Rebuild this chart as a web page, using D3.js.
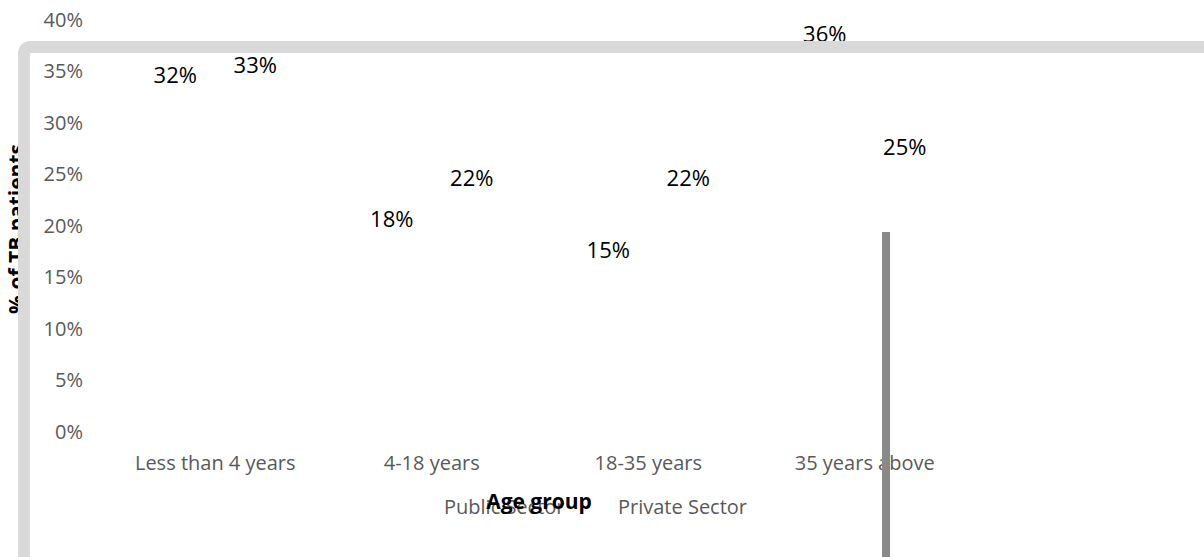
<!DOCTYPE html>
<html>
<head>
<meta charset="utf-8">
<script src="https://cdn.jsdelivr.net/npm/d3@7"></script>
<style>
  html, body { margin: 0; padding: 0; background: #fff; }
  svg { display: block; font-family: "Open Sans", "Noto Sans", sans-serif; }
</style>
</head>
<body>
<svg id="chart" width="1204" height="557"></svg>
<script>
// Share of TB patients by age group, public vs private sector
const categories = ["Less than 4 years", "4-18 years", "18-35 years", "35 years above"];
const seriesNames = ["Public Sector", "Private Sector"];
const publicSector = [0.32, 0.18, 0.15, 0.36];
const privateSector = [0.33, 0.22, 0.22, 0.25];
const yTicks = [0, 0.05, 0.10, 0.15, 0.20, 0.25, 0.30, 0.35, 0.40];
const xTitle = "Age group";
const yTitle = "% of TB patients";

const seriesValues = [publicSector, privateSector];

const svg = d3.select("#chart");

const y = d3.scaleLinear().domain([0, 0.40]).range([432, 20]);
const x0 = d3.scaleBand().domain(categories).range([107, 973]);
const bw = x0.bandwidth();
const x1 = d3.scaleBand().domain(seriesNames).range([bw / 2 - 80, bw / 2 + 80]);

const pct = d3.format(".0%");

// axis title on the left (sits under the frame)
svg.append("text")
  .attr("transform", "translate(24,229) rotate(-90)")
  .attr("text-anchor", "middle")
  .attr("font-size", 21)
  .attr("font-weight", "bold")
  .attr("fill", "#000")
  .text(yTitle);

// y axis: labels only
const yAxis = d3.axisLeft(y).tickValues(yTicks).tickFormat(pct).tickSize(0).tickPadding(0);
const gy = svg.append("g").attr("transform", "translate(83,0)").call(yAxis);
gy.select(".domain").remove();
gy.selectAll("text")
  .attr("font-family", "Open Sans, Noto Sans, sans-serif")
  .attr("font-size", 20)
  .attr("fill", "#595959");

// x axis: category labels only
const xAxis = d3.axisBottom(x0).tickSize(0).tickPadding(0);
const gx = svg.append("g").attr("transform", "translate(0,456)").call(xAxis);
gx.select(".domain").remove();
gx.selectAll("text")
  .attr("font-family", "Open Sans, Noto Sans, sans-serif")
  .attr("font-size", 20)
  .attr("fill", "#595959");

// bars (white) and value labels
const groups = svg.append("g").selectAll("g")
  .data(categories)
  .join("g")
  .attr("transform", d => `translate(${x0(d)},0)`);

const cells = groups.selectAll("g")
  .data((c, i) => seriesNames.map((s, k) => ({ series: s, value: seriesValues[k][i] })))
  .join("g");

cells.append("rect")
  .attr("x", d => x1(d.series) + x1.bandwidth() * 0.1)
  .attr("width", x1.bandwidth() * 0.8)
  .attr("y", d => y(d.value))
  .attr("height", d => y(0) - y(d.value))
  .attr("fill", "#fff");

cells.append("text")
  .attr("x", d => x1(d.series) + x1.bandwidth() / 2)
  .attr("y", d => y(d.value) - 27)
  .attr("dy", "0.35em")
  .attr("text-anchor", "middle")
  .attr("font-size", 22)
  .attr("fill", "#000")
  .text(d => pct(d.value));

// legend (text entries)
const legend = svg.append("g").attr("font-size", 20).attr("fill", "#595959");
legend.append("text").attr("x", 444).attr("y", 514).text(seriesNames[0]);
legend.append("text").attr("x", 618).attr("y", 514).text(seriesNames[1]);

// x axis title
svg.append("text")
  .attr("x", 539)
  .attr("y", 509)
  .attr("text-anchor", "middle")
  .attr("font-size", 21)
  .attr("font-weight", "bold")
  .attr("fill", "#000")
  .text(xTitle);

// chart frame
svg.append("rect")
  .attr("x", 24).attr("y", 47)
  .attr("width", 1300).attr("height", 700)
  .attr("rx", 6)
  .attr("fill", "none")
  .attr("stroke", "#d9d9d9")
  .attr("stroke-width", 12);

// vertical divider
svg.append("rect")
  .attr("x", 882).attr("y", 232)
  .attr("width", 8).attr("height", 340)
  .attr("fill", "#898989");
</script>
</body>
</html>
